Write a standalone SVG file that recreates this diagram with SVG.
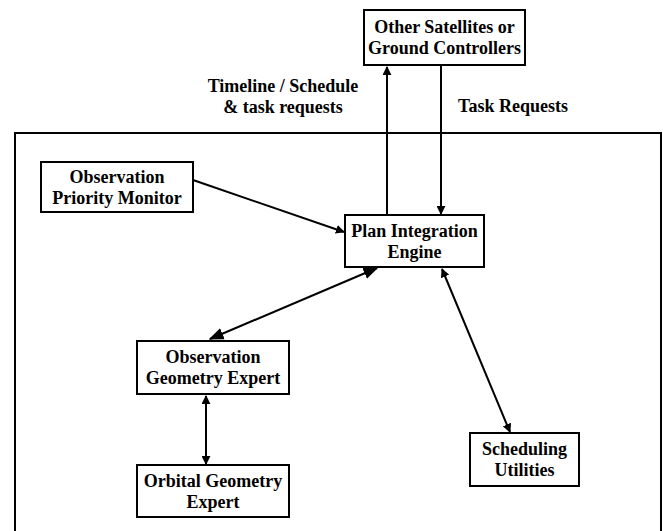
<svg xmlns="http://www.w3.org/2000/svg" width="663" height="531" viewBox="0 0 663 531">
<style>
.box{fill:#fff;stroke:#000;stroke-width:2}
.frame{fill:none;stroke:#000;stroke-width:2}
text{font-family:"Liberation Serif","Times New Roman",serif;font-weight:bold;font-size:18px;fill:#000;text-anchor:middle}
.c{stroke:#000;stroke-width:2;fill:none}
</style>
<defs>
<marker id="ah" viewBox="0 0 10 10" refX="9" refY="5" markerWidth="9" markerHeight="9" orient="auto-start-reverse" markerUnits="userSpaceOnUse">
<path d="M0,0 L10,5 L0,10 z" fill="#000"/>
</marker>
<marker id="ahL" viewBox="0 0 10 10" refX="9" refY="5" markerWidth="15" markerHeight="15" orient="auto-start-reverse" markerUnits="userSpaceOnUse">
<path d="M0,1 L10,5 L0,9 z" fill="#000"/>
</marker>
</defs>
<rect class="frame" x="15" y="133" width="646" height="400"/>
<g id="connectors">
<line class="c" x1="387" y1="215" x2="387" y2="67" marker-end="url(#ah)"/>
<line class="c" x1="441" y1="66" x2="441" y2="214" marker-end="url(#ah)"/>
<line class="c" x1="193" y1="180" x2="344" y2="232" marker-end="url(#ah)"/>
<line class="c" x1="377" y1="268" x2="210" y2="339" marker-start="url(#ahL)" marker-end="url(#ahL)"/>
<line class="c" x1="442" y1="269" x2="510" y2="432" marker-start="url(#ah)" marker-end="url(#ah)"/>
<line class="c" x1="206" y1="396" x2="206" y2="464" marker-start="url(#ah)" marker-end="url(#ah)"/>
</g>
<g id="other-satellites">
<rect class="box" x="364" y="10" width="161" height="55"/>
<text x="444.5" y="33">Other Satellites or</text>
<text x="444.5" y="54">Ground Controllers</text>
</g>
<g id="label-timeline">
<text x="283" y="92">Timeline / Schedule</text>
<text x="283" y="113">&amp; task requests</text>
</g>
<g id="label-task">
<text x="513" y="112">Task Requests</text>
</g>
<g id="priority-monitor">
<rect class="box" x="41" y="162" width="152" height="50"/>
<text x="117" y="183">Observation</text>
<text x="117" y="204">Priority Monitor</text>
</g>
<g id="plan-engine">
<rect class="box" x="345" y="215" width="139" height="52"/>
<text x="414.5" y="237">Plan Integration</text>
<text x="414.5" y="258">Engine</text>
</g>
<g id="obs-geometry">
<rect class="box" x="137" y="341" width="152" height="53"/>
<text x="213" y="363">Observation</text>
<text x="213" y="384">Geometry Expert</text>
</g>
<g id="orbital-geometry">
<rect class="box" x="137" y="465" width="152" height="52"/>
<text x="213" y="487">Orbital Geometry</text>
<text x="213" y="508">Expert</text>
</g>
<g id="scheduling">
<rect class="box" x="470" y="433" width="109" height="53"/>
<text x="524.5" y="455">Scheduling</text>
<text x="524.5" y="476">Utilities</text>
</g>
</svg>
